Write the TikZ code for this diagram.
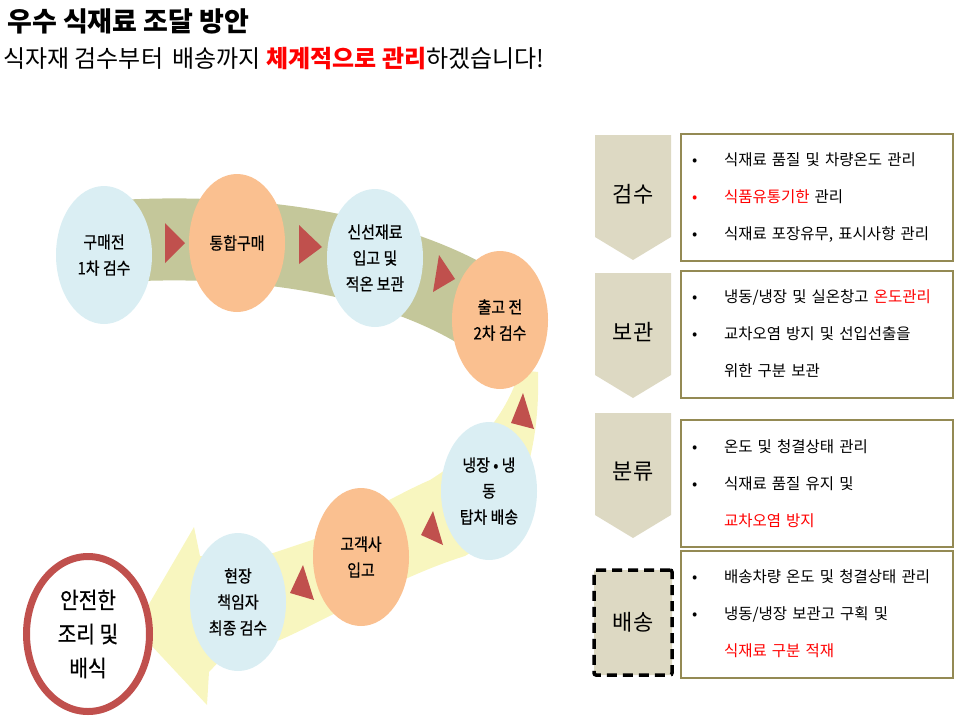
\documentclass[tikz,border=0pt]{standalone}
\usepackage{fontspec}
\setmainfont{Noto Sans CJK KR}
\newfontfamily\stagefont[FakeStretch=0.88, FakeBold=0.6]{Noto Sans CJK KR}
\usetikzlibrary{shapes.geometric}
\definecolor{stageblue}{HTML}{DAEEF3}
\definecolor{stageorange}{HTML}{FAC090}
\definecolor{bandolive}{HTML}{C4C79A}
\definecolor{bandyellow}{HTML}{F8F6BF}
\definecolor{arrowred}{HTML}{C0504D}
\definecolor{tabfill}{HTML}{DDD9C3}
\definecolor{boxolive}{HTML}{948A54}
\definecolor{hlred}{HTML}{FF0000}
\newcommand{\bitem}{\makebox[32pt][l]{•}}
\newcommand{\ritem}{\makebox[32pt][l]{\textcolor{hlred}{•}}}
\newcommand{\nitem}{\makebox[32pt][l]{}}
\tikzset{
	every node/.style={inner sep=0pt},
	stage/.style={ellipse, minimum width=96pt, minimum height=138pt, align=center, font=\stagefont\fontsize{17}{26}\selectfont},
	bluestage/.style={stage, fill=stageblue},
	orangestage/.style={stage, fill=stageorange},
	endstage/.style={ellipse, draw=arrowred, line width=7pt, fill=white, minimum width=123pt, minimum height=155pt, align=center, font=\stagefont\fontsize{23}{34}\selectfont},
	oliveband/.style={draw=bandolive, line width=82pt},
	yellowband/.style={fill=bandyellow},
	arrowmark/.style={fill=arrowred},
	tablabel/.style={font=\fontsize{22}{24}\selectfont},
	infobox/.style={draw=boxolive, line width=2pt, minimum width=272pt, minimum height=127pt, text width=250pt, inner xsep=11pt, align=left, font=\fontsize{15.5}{37}\selectfont},
}
\begin{document}
\begin{tikzpicture}[x=1pt, y=-1pt]
	
	\useasboundingbox (0,0) rectangle (960,720);
	
	% title
	\node[anchor=west, font=\fontsize{27}{30}\selectfont\bfseries] (TITLE) at (7,21) {우수 식재료 조달 방안};
	\node[anchor=west, font=\fontsize{24}{28}\selectfont] (SUBTITLE) at (3,59) {식자재 검수부터\hspace{4pt} 배송까지 \textcolor{hlred}{\bfseries 체계적으로 관리}하겠습니다!};
	
	% bands
	\draw[oliveband] (105,242) .. controls (240,232) and (390,250) .. (490,315);
	\fill[yellowband] (520,370) -- (538,372) .. controls (540,440) and (525,520) .. (465,556) .. controls (400,576) and (330,618) .. (280,640) -- (225,655) -- (209,672) -- (207,705) -- (135,628) -- (194,527) -- (200,556) -- (215,556) -- (273,553) .. controls (285,549) and (300,544) .. (312,540) .. controls (340,528) and (395,495) .. (430,480) .. controls (470,455) and (505,420) .. (520,370) -- cycle;
	
	% arrow marks
	\fill[arrowmark] (165,223) -- (185,243) -- (165,263) -- cycle;
	\fill[arrowmark] (299,225) -- (322,247) -- (299,264) -- cycle;
	\fill[arrowmark] (439,255) -- (455,279) -- (433,292) -- cycle;
	\fill[arrowmark] (523,393) -- (511,423) -- (534,429) -- cycle;
	\fill[arrowmark] (433,511) -- (421,535) -- (443,545) -- cycle;
	\fill[arrowmark] (303,565) -- (290,593) -- (314,600) -- cycle;
	
	% stages
	\node[bluestage] (BUY1) at (104,255) {구매전\\1차 검수};
	\node[orangestage] (GROUP) at (237,243) {통합구매};
	\node[bluestage] (STORE) at (375,258) {신선재료\\입고 및\\적온 보관};
	\node[orangestage] (CHECK2) at (500,320) {출고 전\\2차 검수};
	\node[bluestage] (SHIP) at (489,491) {냉장 • 냉\\동\\탑차 배송};
	\node[orangestage] (ARRIVE) at (361,557) {고객사\\입고};
	\node[bluestage] (FINAL) at (238,602) {현장\\책임자\\최종 검수};
	\node[endstage] (SERVE) at (88,634) {안전한\\조리 및\\배식};
	
	% right panels
	\foreach \y/\name/\txt in {135/GS/검수, 273/BG/보관, 413/BL/분류} {
		\fill[tabfill] (595,\y) -- (671,\y) -- (671,\y+102) -- (633,\y+125) -- (595,\y+102) -- cycle;
		\node[tablabel] (\name) at (633,\y+59) {\txt};
	}
	\node[tablabel, draw, fill=tabfill, line width=3.5pt, dash pattern=on 10pt off 6pt, rounded corners=2pt, minimum width=78pt, minimum height=105pt] (BS) at (633,622.5) {배송};
	
	\node[infobox] (GSBOX) at (817,197.5) {\bitem 식재료 품질 및 차량온도 관리\\\ritem \textcolor{hlred}{식품유통기한} 관리\\\bitem 식재료 포장유무, 표시사항 관리};
	\node[infobox] (BGBOX) at (817,334) {\bitem 냉동/냉장 및 실온창고 \textcolor{hlred}{온도관리}\\\bitem 교차오염 방지 및 선입선출을\\\nitem 위한 구분 보관};
	\node[infobox] (BLBOX) at (817,483.5) {\bitem 온도 및 청결상태 관리\\\bitem 식재료 품질 유지 및\\\nitem \textcolor{hlred}{교차오염 방지}};
	\node[infobox] (BSBOX) at (817,614) {\bitem 배송차량 온도 및 청결상태 관리\\\bitem 냉동/냉장 보관고 구획 및\\\nitem \textcolor{hlred}{식재료 구분 적재}};
	
\end{tikzpicture}
\end{document}
